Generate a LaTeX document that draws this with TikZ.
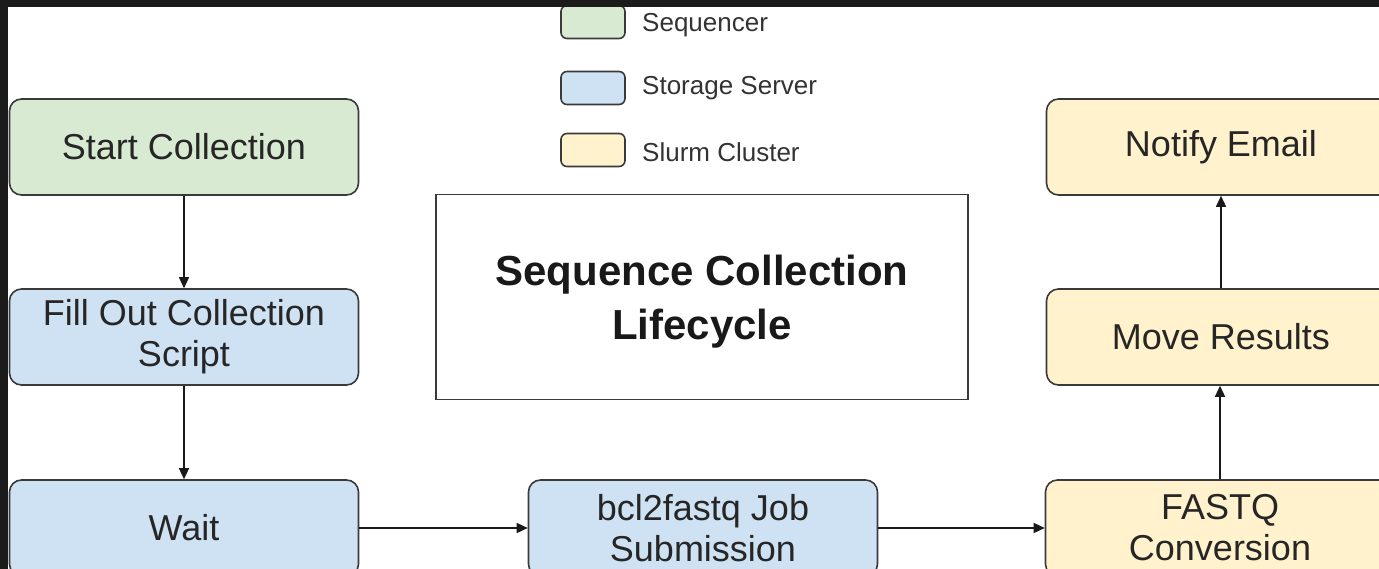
\documentclass[tikz,border=0pt]{standalone}
\usepackage{fontspec}
\setmainfont{Liberation Sans}
\usetikzlibrary{arrows.meta}
\definecolor{seqgreen}{HTML}{D9EAD3}
\definecolor{storblue}{HTML}{CFE2F3}
\definecolor{slurmyel}{HTML}{FFF2CC}
\definecolor{edge}{HTML}{3A3A3A}
\definecolor{frame}{HTML}{1B1B1B}
\tikzset{
  x=1pt, y=-1pt,
  stage/.style={draw=edge, line width=1.6pt, rounded corners=12pt,
    minimum width=349pt, minimum height=96pt, align=center,
    font=\fontsize{36}{41}\selectfont, text=black!85, inner sep=0pt},
  swatch/.style={draw=edge, line width=1.6pt, rounded corners=6pt,
    minimum width=64pt, minimum height=33pt, inner sep=0pt},
  legtext/.style={anchor=west, font=\fontsize{26}{30}\selectfont, text=black!80, inner sep=0pt},
  flow/.style={draw=black!90, line width=1.4pt, -{Triangle[length=11pt,width=10pt]}}
}
\begin{document}
\begin{tikzpicture}
\useasboundingbox (0,0) rectangle (1379,569);
\clip (0,0) rectangle (1379,569);
\fill[white] (0,0) rectangle (1379,569);

% legend
\node[swatch, fill=seqgreen] (lg) at (593,22) {};
\node[legtext] (lgt) at (642,25) {Sequencer};
\node[swatch, fill=storblue] (lb) at (593,88) {};
\node[legtext] (lbt) at (642,88) {Storage Server};
\node[swatch, fill=slurmyel] (ly) at (593,150) {};
\node[legtext] (lyt) at (642,152) {Slurm Cluster};

% title frame and heading
\node[draw=edge, line width=1.6pt, minimum width=532pt, minimum height=205pt,
  inner sep=0pt] (title) at (702,297) {};
\node[align=center, font=\bfseries\fontsize{42}{54}\selectfont, text=black!90]
  (heading) at ([yshift=-5pt]title.center) {Sequence Collection\\Lifecycle};

% stages
\node[stage, fill=seqgreen] (start) at (184,147) {Start Collection};
\node[stage, fill=storblue] (fill) at (184,337) {Fill Out Collection\\Script};
\node[stage, fill=storblue] (wait) at (184,528) {Wait};
\node[stage, fill=storblue] (bcl) at (703,528) {bcl2fastq Job\\Submission};
\node[stage, fill=slurmyel] (fastq) at (1220,528) {FASTQ\\Conversion};
\node[stage, fill=slurmyel] (move) at (1221,337) {Move Results};
\node[stage, fill=slurmyel] (notify) at (1221,147) {Notify Email};

% connectors
\draw[flow] (start.south) -- (fill.north);
\draw[flow] (fill.south) -- (wait.north);
\draw[flow] (wait.east) -- (bcl.west);
\draw[flow] (bcl.east) -- (fastq.west);
\draw[flow] (fastq.north) -- (fastq.north |- move.south);
\draw[flow] (move.north) -- (notify.south);

% dark screen edges
\fill[frame] (0,0) rectangle (1379,7);
\fill[frame] (0,0) rectangle (8,569);
\end{tikzpicture}
\end{document}
